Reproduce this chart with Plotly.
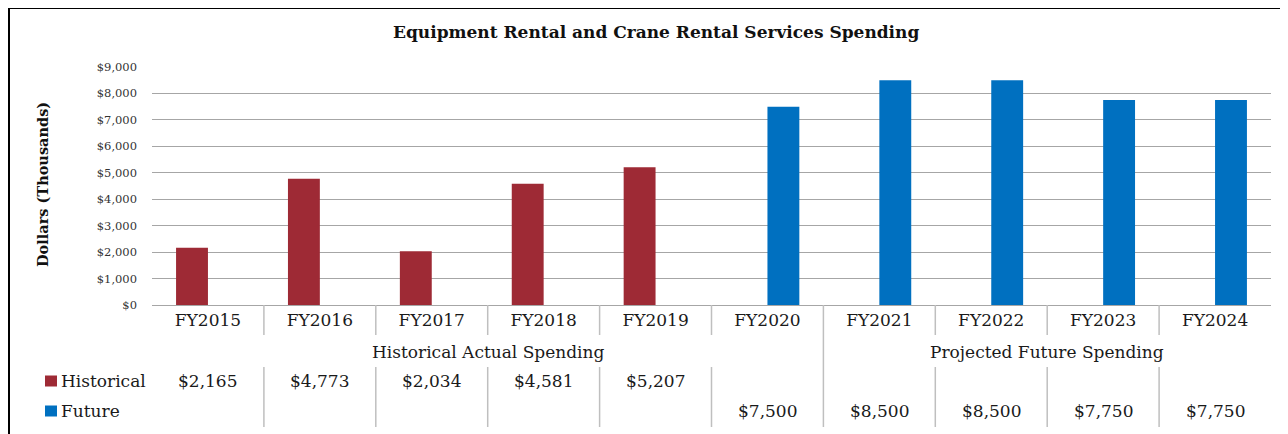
import plotly.graph_objects as go

categories = ["FY2015", "FY2016", "FY2017", "FY2018", "FY2019",
              "FY2020", "FY2021", "FY2022", "FY2023", "FY2024"]
historical = [2165, 4773, 2034, 4581, 5207, None, None, None, None, None]
future = [None, None, None, None, None, 7500, 8500, 8500, 7750, 7750]
tick_vals = [0, 1000, 2000, 3000, 4000, 5000, 6000, 7000, 8000, 9000]
tick_text = ["$0", "$1,000", "$2,000", "$3,000", "$4,000", "$5,000",
             "$6,000", "$7,000", "$8,000", "$9,000"]
groups = [("Historical Actual Spending", 2.5), ("Projected Future Spending", 7.5)]

# page has an 8px body margin; figure sized to fit the 1288x434 window
OFF = 8
W, H = 1280, 426
# plot area in screen pixels
SL, SR, ST, SB = 152, 1271, 67, 305
L, R, T, B = SL - OFF, SR - OFF, ST - OFF, SB - OFF
FONT = "DejaVu Serif"
RED = "#9E2A35"
BLUE = "#0070C0"
SEP = "#BFBFBF"
TXT = "#1a1a1a"


def px(x):
    return (x - SL) / (SR - SL)


def py(y):
    return (SB - y) / (SB - ST)


fig = go.Figure()
fig.add_trace(go.Bar(x=categories, y=historical, name="Historical",
                     marker=dict(color=RED, line=dict(width=0))))
fig.add_trace(go.Bar(x=categories, y=future, name="Future",
                     marker=dict(color=BLUE, line=dict(width=0))))

shapes = []
annotations = []

# outer frame
shapes.append(dict(type="rect", xref="paper", yref="paper",
                   x0=px(8.5), x1=px(1300), y0=py(7.5), y1=py(460),
                   line=dict(color="black", width=3), fillcolor="rgba(0,0,0,0)"))

# data-table separators
for i in range(1, len(categories)):
    xb = i - 0.5
    if i == 6:
        shapes.append(dict(type="line", xref="x", yref="paper", x0=xb, x1=xb,
                           y0=py(305), y1=py(427), line=dict(color=SEP, width=1.5)))
    else:
        shapes.append(dict(type="line", xref="x", yref="paper", x0=xb, x1=xb,
                           y0=py(305), y1=py(335), line=dict(color=SEP, width=1.5)))
        shapes.append(dict(type="line", xref="x", yref="paper", x0=xb, x1=xb,
                           y0=py(367), y1=py(427), line=dict(color=SEP, width=1.5)))

TBL = dict(family=FONT, size=17, color=TXT)

# group labels
for label, xc in groups:
    annotations.append(dict(x=xc, y=py(352), xref="x", yref="paper", text=label,
                            showarrow=False, font=TBL,
                            xanchor="center", yanchor="middle"))

# table values
for i, v in enumerate(historical):
    if v is not None:
        annotations.append(dict(x=i, y=py(381), xref="x", yref="paper",
                                text=f"${v:,}", showarrow=False, font=TBL,
                                xanchor="center", yanchor="middle"))
for i, v in enumerate(future):
    if v is not None:
        annotations.append(dict(x=i, y=py(411), xref="x", yref="paper",
                                text=f"${v:,}", showarrow=False, font=TBL,
                                xanchor="center", yanchor="middle"))

# legend keys
for name, color, yc in [("Historical", RED, 381), ("Future", BLUE, 411)]:
    shapes.append(dict(type="rect", xref="paper", yref="paper",
                       x0=px(45), x1=px(57), y0=py(yc - 5.5), y1=py(yc + 5.5),
                       fillcolor=color, line=dict(width=0)))
    annotations.append(dict(x=px(59), y=py(yc), xref="paper", yref="paper",
                            text=name, showarrow=False, font=TBL,
                            xanchor="left", yanchor="middle"))

# title
annotations.append(dict(x=px(656), y=py(32), xref="paper", yref="paper",
                        text="<b>Equipment Rental and Crane Rental Services Spending</b>",
                        showarrow=False, font=dict(family=FONT, size=17, color="#111"),
                        xanchor="center", yanchor="middle"))
# y-axis title
annotations.append(dict(x=px(42), y=py(185), xref="paper", yref="paper",
                        text="<b>Dollars (Thousands)</b>", textangle=-90,
                        showarrow=False, font=dict(family=FONT, size=14.5, color="#111"),
                        xanchor="center", yanchor="middle"))

fig.update_layout(
    width=W, height=H,
    margin=dict(l=L, r=W - R, t=T, b=H - B),
    paper_bgcolor="white", plot_bgcolor="white",
    barmode="group", bargap=0.43, bargroupgap=0,
    showlegend=False,
    shapes=shapes, annotations=annotations,
    xaxis=dict(type="category", range=[-0.5, 9.5], showgrid=False,
               showline=False, ticks="", zeroline=False,
               tickfont=dict(family=FONT, size=17, color=TXT),
               ticklabelstandoff=3, fixedrange=True),
    yaxis=dict(range=[0, 9000], tickvals=tick_vals, ticktext=tick_text,
               showgrid=True, gridcolor="#A6A6A6", gridwidth=1,
               zeroline=True, zerolinecolor="#A6A6A6", zerolinewidth=1,
               showline=False, ticks="",
               tickfont=dict(family=FONT, size=11.5, color="#333"),
               ticklabelstandoff=14, fixedrange=True),
)

fig.write_html("out.html")
